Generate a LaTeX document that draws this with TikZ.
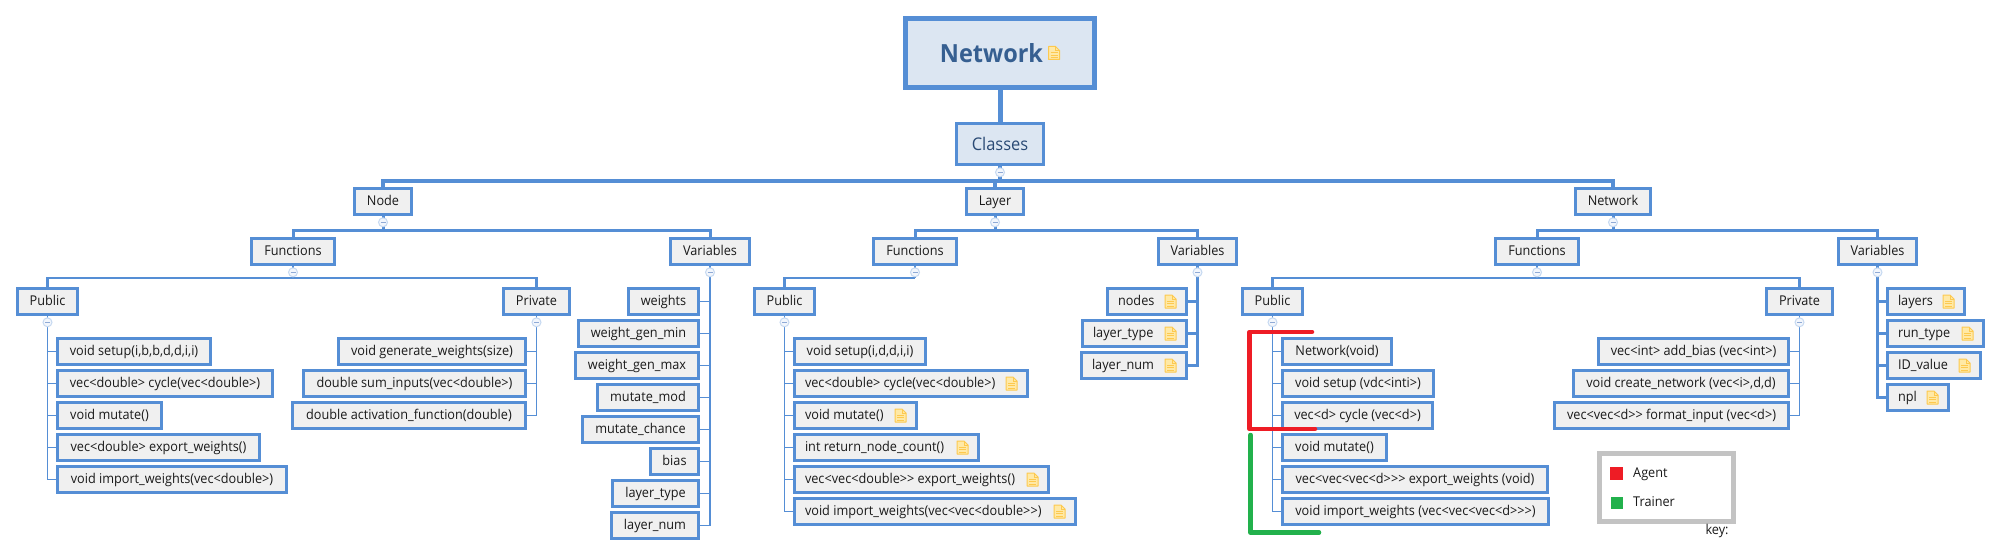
\documentclass[tikz,border=0pt]{standalone}
\usepackage{fontspec}
\setmainfont[Ligatures=TeXOff,FakeStretch=0.94]{Open Sans}
\usetikzlibrary{calc}
\definecolor{edge}{HTML}{558ED5}
\definecolor{lf}{HTML}{F0F0F0}
\definecolor{rootf}{HTML}{DCE6F2}
\definecolor{txt}{HTML}{1A1A1A}
\definecolor{rootT}{HTML}{365F91}
\definecolor{clsT}{HTML}{2A4A75}
\definecolor{noteO}{HTML}{FDC94F}
\definecolor{noteF}{HTML}{FFE9A6}
\definecolor{btnO}{HTML}{C6D9F1}
\definecolor{btnF}{HTML}{F2F6FC}
\definecolor{btnM}{HTML}{8FAAD6}
\definecolor{redB}{HTML}{EE1C25}
\definecolor{greenB}{HTML}{22B14C}
\definecolor{keyG}{HTML}{C3C3C3}
\tikzset{
  x=1pt,y=-1pt,
  tbox/.style={draw=edge,inner sep=0pt,text=txt,font=\fontsize{13.5}{15}\selectfont,text height=10.8pt,text depth=2.2pt},
  stem1/.style={draw=edge,line width=1.5pt},
  stem2/.style={draw=edge,line width=2.5pt},
  stem3/.style={draw=edge,line width=3pt},
  stem4/.style={draw=edge,line width=4pt},
  stem5/.style={draw=edge,line width=5pt},
  btn/.style={circle,draw=btnO,fill=btnF,line width=1pt,minimum size=9pt,inner sep=0pt},
  bracket/.style={line width=4.5pt,line cap=round,line join=round},
  keytext/.style={text=txt,font=\fontsize{13.5}{15}\selectfont,inner sep=0pt,text height=10.8pt,text depth=2.2pt},
  noteic/.pic={
    \draw[draw=noteO,fill=noteF,line width=1pt,line join=round] (-5.5,-6.5)--(1.5,-6.5)--(5.5,-2.5)--(5.5,6.5)--(-5.5,6.5)--cycle;
    \draw[draw=noteO,line width=1pt] (1.5,-6.5)--(1.5,-2.5)--(5.5,-2.5);
    \draw[draw=noteO,line width=.8pt] (-3.5,-.5)--(3.5,-.5) (-3.5,2)--(3.5,2) (-3.5,4.5)--(3.5,4.5);
  },
}
\newcommand{\bxx}[6]{%
  \pgfmathsetmacro{\bxw}{#4-#2-3}%
  \node[tbox,fill=lf,line width=3pt,minimum height=26pt] (#1) at ({(#2+#4)/2},{#3+14.5}) {\makebox[\bxw pt][#5]{#6}};%
}
\newcommand{\rowbox}[5]{% name x1 y1 x2 text
  \bxx{#1}{#2}{#3}{#4}{c}{#5}}
\newcommand{\notebox}[5]{%
  \bxx{#1}{#2}{#3}{#4}{l}{\hspace{10.5pt}#5}\pic at ($(#1.east)+(-17.5,0)$) {noteic};}
\newcommand{\cbtn}[2]{% name, parent
  \node[btn] (#1) at ($(#2.south)+(0,6.3)$) {};
  \draw[draw=btnM,line width=.9pt] ($(#1.center)+(-2.5,0)$) -- ($(#1.center)+(2.5,0)$);}
\begin{document}
\begin{tikzpicture}
\useasboundingbox (0,0) rectangle (2001,556);
% ---------- top
\node[draw=edge,fill=rootf,line width=5pt,minimum width=189pt,minimum height=69pt,inner sep=0pt] (root) at (1000,53) {\makebox[189pt][c]{\hspace{-17pt}\textcolor{rootT}{\fontsize{25}{28}\selectfont\bfseries Network}}};
\pic at ($(root.center)+(54,0)$) {noteic};
\node[draw=edge,fill=rootf,line width=3pt,minimum width=87pt,minimum height=41pt,inner sep=0pt,text=clsT,font=\fontsize{17.5}{20}\selectfont] (cls) at (1000,144) {Classes};
\draw[stem5] (root.south) -- (cls.north);
% ---------- level 2
\bxx{nNode}{353}{187}{413}{c}{Node}
\bxx{nLayer}{965}{187}{1025}{c}{Layer}
\bxx{nNet}{1574}{187}{1652}{c}{Network}
\coordinate (bCls) at ($(cls.south)+(0,15)$);
\draw[stem4] (cls.south) -- (bCls);
\draw[stem4] (nNode.north) |- (bCls) -| (nNet.north);
\draw[stem4] (nLayer.north) -- (nLayer.north |- bCls);
% ---------- Node
\bxx{nfn}{250}{237}{336}{c}{Functions}
\bxx{nvar}{669}{237}{751}{c}{Variables}
\coordinate (bN) at ($(nNode.south)+(0,14)$);
\draw[stem3] (nNode.south) -- (bN);
\draw[stem3] (nfn.north) |- (bN) -| (nvar.north);
\bxx{npub}{16}{287}{79}{c}{Public}
\bxx{npri}{502}{287}{571}{c}{Private}
\coordinate (bNf) at ($(nfn.south)+(0,12)$);
\draw[stem2] (nfn.south) -- (bNf);
\draw[stem2] (npub.north) |- (bNf) -| (npri.north);
\rowbox{a1}{56}{337}{212}{void setup(i,b,b,d,d,i,i)}
\rowbox{a2}{56}{369}{274}{vec<double> cycle(vec<double>)}
\rowbox{a3}{56}{401}{163}{void mutate()}
\rowbox{a4}{56}{433}{261}{vec<double> export\_weights()}
\rowbox{a5}{56}{465}{288}{void import\_weights(vec<double>)}
\draw[stem1] (npub.south) |- (a5.west);
\foreach \n in {a1,a2,a3,a4} \draw[stem1] (npub.south |- \n.west) -- (\n.west);
\rowbox{b1}{337}{337}{527}{void generate\_weights(size)}
\rowbox{b2}{302}{369}{527}{double sum\_inputs(vec<double>)}
\rowbox{b3}{291}{401}{527}{double activation\_function(double)}
\draw[stem1] (npri.south) |- (b3.east);
\foreach \n in {b1,b2} \draw[stem1] (npri.south |- \n.east) -- (\n.east);
\rowbox{c1}{627}{287}{700}{weights}
\rowbox{c2}{577}{319}{700}{weight\_gen\_min}
\rowbox{c3}{574}{351}{700}{weight\_gen\_max}
\rowbox{c4}{596}{383}{700}{mutate\_mod}
\rowbox{c5}{581}{415}{700}{mutate\_chance}
\rowbox{c6}{649}{447}{700}{bias}
\rowbox{c7}{611}{479}{700}{layer\_type}
\rowbox{c8}{610}{511}{700}{layer\_num}
\draw[stem1] (nvar.south) |- (c8.east);
\foreach \n in {c1,c2,c3,c4,c5,c6,c7} \draw[stem1] (nvar.south |- \n.east) -- (\n.east);
% ---------- Layer
\bxx{lfn}{872}{237}{958}{c}{Functions}
\bxx{lvar}{1157}{237}{1238}{c}{Variables}
\coordinate (bL) at ($(nLayer.south)+(0,14)$);
\draw[stem3] (nLayer.south) -- (bL);
\draw[stem3] (lfn.north) |- (bL) -| (lvar.north);
\bxx{lpub}{753}{287}{816}{c}{Public}
\coordinate (bLf) at ($(lfn.south)+(0,12)$);
\draw[stem2] (lfn.south) -- (bLf);
\draw[stem2] (lpub.north) |- (bLf);
\rowbox{d1}{793}{337}{927}{void setup(i,d,d,i,i)}
\notebox{d2}{793}{369}{1029}{vec<double> cycle(vec<double>)}
\notebox{d3}{793}{401}{918}{void mutate()}
\notebox{d4}{793}{433}{980}{int return\_node\_count()}
\notebox{d5}{793}{465}{1050}{vec<vec<double>> export\_weights()}
\notebox{d6}{793}{497}{1077}{void import\_weights(vec<vec<double>>)}
\draw[stem1] (lpub.south) |- (d6.west);
\foreach \n in {d1,d2,d3,d4,d5} \draw[stem1] (lpub.south |- \n.west) -- (\n.west);
\notebox{e1}{1106}{287}{1188}{nodes}
\notebox{e2}{1081}{319}{1188}{layer\_type}
\notebox{e3}{1080}{351}{1188}{layer\_num}
\draw[stem2] (lvar.south) |- (e3.east);
\foreach \n in {e1,e2} \draw[stem2] (lvar.south |- \n.east) -- (\n.east);
% ---------- Network
\bxx{tfn}{1494}{237}{1580}{c}{Functions}
\bxx{tvar}{1837}{237}{1918}{c}{Variables}
\coordinate (bT) at ($(nNet.south)+(0,14)$);
\draw[stem3] (nNet.south) -- (bT);
\draw[stem3] (tfn.north) |- (bT) -| (tvar.north);
\bxx{tpub}{1241}{287}{1304}{c}{Public}
\bxx{tpri}{1765}{287}{1834}{c}{Private}
\coordinate (bTf) at ($(tfn.south)+(0,12)$);
\draw[stem2] (tfn.south) -- (bTf);
\draw[stem2] (tpub.north) |- (bTf) -| (tpri.north);
\rowbox{f1}{1281}{337}{1393}{Network(void)}
\rowbox{f2}{1281}{369}{1435}{void setup (vdc<inti>)}
\rowbox{f3}{1281}{401}{1434}{vec<d> cycle (vec<d>)}
\rowbox{f4}{1281}{433}{1388}{void mutate()}
\rowbox{f5}{1281}{465}{1549}{vec<vec<vec<d>>> export\_weights (void)}
\rowbox{f6}{1281}{497}{1550}{void import\_weights (vec<vec<vec<d>>>)}
\draw[stem1] (tpub.south) |- (f6.west);
\foreach \n in {f1,f2,f3,f4,f5} \draw[stem1] (tpub.south |- \n.west) -- (\n.west);
\rowbox{g1}{1597}{337}{1790}{vec<int> add\_bias (vec<int>)}
\rowbox{g2}{1572}{369}{1790}{void create\_network (vec<i>,d,d)}
\rowbox{g3}{1553}{401}{1790}{vec<vec<d>> format\_input (vec<d>)}
\draw[stem1] (tpri.south) |- (g3.east);
\foreach \n in {g1,g2} \draw[stem1] (tpri.south |- \n.east) -- (\n.east);
\notebox{h1}{1886}{287}{1966}{layers}
\notebox{h2}{1886}{319}{1985}{run\_type}
\notebox{h3}{1886}{351}{1982}{ID\_value}
\notebox{h4}{1886}{383}{1950}{npl}
\draw[stem2] (tvar.south) |- (h4.west);
\foreach \n in {h1,h2,h3} \draw[stem2] (tvar.south |- \n.west) -- (\n.west);
% ---------- collapse buttons
\cbtn{z1}{cls}
\cbtn{z2}{nNode}\cbtn{z3}{nLayer}\cbtn{z4}{nNet}
\cbtn{z5}{nfn}\cbtn{z6}{nvar}\cbtn{z7}{lfn}\cbtn{z8}{lvar}\cbtn{z9}{tfn}\cbtn{z10}{tvar}
\cbtn{z11}{npub}\cbtn{z12}{npri}\cbtn{z13}{lpub}\cbtn{z14}{tpub}\cbtn{z15}{tpri}
% ---------- brackets
\coordinate (r1) at (1312,332); \coordinate (r2) at (1249.5,332);
\coordinate (r3) at (1249.5,429); \coordinate (r4) at (1315,429);
\draw[bracket,draw=redB] (r1) -- (r2) -- (r3) -- (r4);
\coordinate (s1) at (1250.5,435); \coordinate (s2) at (1250.5,532.5); \coordinate (s3) at (1319,532.5);
\draw[bracket,draw=greenB] (s1) -- (s2) -- (s3);
% ---------- key
\node[draw=keyG,fill=white,line width=5pt,minimum width=134pt,minimum height=68pt,inner sep=0pt] (key) at (1666.5,487.5) {};
\node[fill=redB,minimum size=13pt,inner sep=0pt] (kr) at (1616.5,473.5) {};
\node[fill=greenB,minimum size=12.5pt,inner sep=0pt] (kg) at (1617,503) {};
\node[keytext,anchor=west] (ka) at (1633,473.5) {Agent};
\node[keytext,anchor=west] (kt) at (1633,502.5) {Trainer};
\node[keytext] (kk) at (1717,530) {key:};
\end{tikzpicture}
\end{document}
